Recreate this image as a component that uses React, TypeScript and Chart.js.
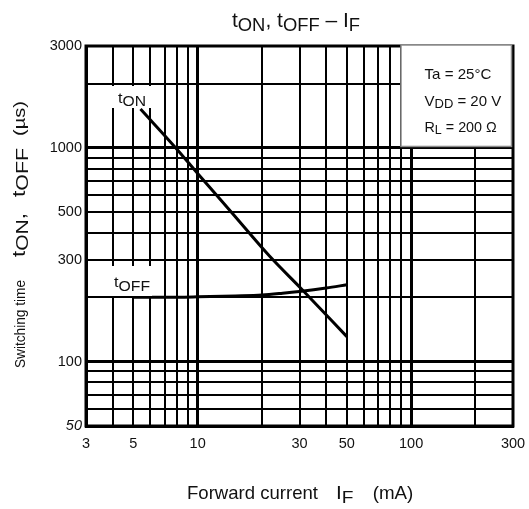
import React, { useEffect, useRef } from 'react';
import { Chart, registerables } from 'chart.js';

Chart.register(...registerables);

const FONT = '"Liberation Sans", Arial, Helvetica, sans-serif';
const INK = '#111';

// tON curve (forward current mA -> switching time µs)
const ifOn = [5.4, 7.9, 10, 14.6, 21.7, 30.5, 50];
const tOn = [1520, 1000, 760, 492, 312, 220, 131];
// tOFF curve
const ifOff = [5, 7, 10, 15, 20, 25, 30, 40, 50];
const tOff = [200, 200, 201, 203, 205, 209, 213, 221, 229];

// grid and tick labels
const xGridValues = [3, 4, 5, 6, 7, 8, 9, 10, 20, 30, 40, 50, 60, 70, 80, 90, 100, 200, 300];
const xTickLabels = [3, 5, 10, 30, 50, 100, 300];
const yGridValues = [50, 60, 70, 80, 90, 100, 200, 300, 400, 500, 600, 700, 800, 900, 1000, 2000, 3000];
const yTickLabels = [50, 100, 300, 500, 1000, 3000];
const majorX = [10, 100];
const majorY = [100, 1000];

type Seg = { t: string; size: number; dy?: number };

function drawGroup(ctx: CanvasRenderingContext2D, segs: Seg[], x: number, y: number, length?: number) {
  let total = 0;
  const widths = segs.map((s) => {
    ctx.font = `${s.size}px ${FONT}`;
    const w = ctx.measureText(s.t).width;
    total += w;
    return w;
  });
  const sx = length ? length / total : 1;
  ctx.save();
  ctx.translate(x, y);
  ctx.scale(sx, 1);
  ctx.textAlign = 'left';
  ctx.textBaseline = 'alphabetic';
  ctx.fillStyle = INK;
  let cx = 0;
  segs.forEach((s, i) => {
    ctx.font = `${s.size}px ${FONT}`;
    ctx.fillText(s.t, cx, s.dy || 0);
    cx += widths[i];
  });
  ctx.restore();
}

const overlay = {
  id: 'overlay',
  afterDatasetsDraw(chart: any) {
    const ctx: CanvasRenderingContext2D = chart.ctx;
    const { left, top, right, bottom } = chart.chartArea;
    const yS = chart.scales.y;
    ctx.save();

    // curve labels with white backing
    ctx.fillStyle = '#fff';
    ctx.fillRect(left + 21, top + 40, 50, 22);
    ctx.fillRect(left + 26, top + 220, 40, 30);
    drawGroup(ctx, [{ t: 't', size: 15 }, { t: 'ON', size: 14.5, dy: 3.3 }], left + 32, top + 57, 28);
    drawGroup(ctx, [{ t: 't', size: 15 }, { t: 'OFF', size: 14.5, dy: 4 }], left + 28, top + 241, 36);

    // plot border
    ctx.strokeStyle = '#000';
    ctx.lineWidth = 3;
    ctx.strokeRect(left, top, right - left, bottom - top);

    // condition box
    const bx = right - 112;
    const by = top - 1;
    const bb = yS.getPixelForValue(1000) - 1.5;
    ctx.fillStyle = '#fff';
    ctx.fillRect(bx, by, right - 1.5 - bx, bb - by);
    ctx.strokeStyle = '#8c8c8c';
    ctx.lineWidth = 1.5;
    ctx.strokeRect(bx, by, right - 1.5 - bx, bb - by);
    const tx = bx + 23.5;
    drawGroup(ctx, [{ t: 'Ta = 25°C', size: 15 }], tx, top + 33, 67);
    drawGroup(ctx, [{ t: 'V', size: 15 }, { t: 'DD', size: 13, dy: 2.7 }, { t: ' = 20 V', size: 15 }], tx, top + 59.7, 76.7);
    drawGroup(ctx, [{ t: 'R', size: 15 }, { t: 'L', size: 13, dy: 2.7 }, { t: ' = 200 Ω', size: 15 }], tx, top + 85.7, 72.3);

    ctx.restore();
  },
  afterDraw(chart: any) {
    const ctx: CanvasRenderingContext2D = chart.ctx;
    ctx.save();
    // title
    drawGroup(
      ctx,
      [
        { t: 't', size: 20 },
        { t: 'ON', size: 17.5, dy: 3.5 },
        { t: ', ', size: 20 },
        { t: 't', size: 20 },
        { t: 'OFF', size: 17.5, dy: 3.5 },
        { t: ' – I', size: 20 },
        { t: 'F', size: 17.5, dy: 3.5 },
      ],
      232,
      27.3,
      128
    );
    // x axis title
    drawGroup(ctx, [{ t: 'Forward current', size: 18.5 }], 187, 499.3, 131);
    drawGroup(ctx, [{ t: 'I', size: 18.5 }, { t: 'F', size: 17, dy: 3.7 }], 336, 499.3, 17.5);
    drawGroup(ctx, [{ t: '(mA)', size: 18.5 }], 372.7, 499.3, 40.6);
    // y axis title (rotated)
    const drawV = (segs: Seg[], startY: number, endY: number) => {
      ctx.save();
      ctx.translate(24.5, startY);
      ctx.rotate(-Math.PI / 2);
      drawGroup(ctx, segs, 0, 0, startY - endY);
      ctx.restore();
    };
    drawV([{ t: 'Switching time', size: 15.5 }], 368, 280);
    drawV([{ t: 't', size: 18 }, { t: 'ON', size: 17, dy: 3 }, { t: ',', size: 18 }], 257, 213);
    drawV([{ t: 't', size: 18 }, { t: 'OFF', size: 17, dy: 3 }], 197, 148);
    drawV([{ t: '(µs)', size: 17 }], 136, 101);
    ctx.restore();
  },
};

export default function App() {
  const ref = useRef<HTMLCanvasElement | null>(null);

  useEffect(() => {
    if (!ref.current) return;
    const chart = new Chart(ref.current, {
      type: 'line',
      data: {
        datasets: [
          {
            label: 'tON',
            data: ifOn.map((x, i) => ({ x, y: tOn[i] })),
            borderColor: '#000',
            borderWidth: 3,
            pointRadius: 0,
            cubicInterpolationMode: 'monotone',
            fill: false,
          },
          {
            label: 'tOFF',
            data: ifOff.map((x, i) => ({ x, y: tOff[i] })),
            borderColor: '#000',
            borderWidth: 3,
            pointRadius: 0,
            cubicInterpolationMode: 'monotone',
            fill: false,
          },
        ],
      },
      options: {
        animation: false,
        responsive: true,
        maintainAspectRatio: false,
        devicePixelRatio: 1,
        layout: { padding: { left: 0, top: 46, right: 16, bottom: 43 } },
        plugins: { legend: { display: false }, tooltip: { enabled: false }, title: { display: false } },
        scales: {
          x: {
            type: 'logarithmic',
            min: 3,
            max: 300,
            afterBuildTicks: (s: any) => {
              s.ticks = xGridValues.map((v) => ({ value: v }));
            },
            afterFit: (s: any) => {
              s.height = 40;
              s.paddingLeft = 0;
              s.paddingRight = 0;
            },
            grid: {
              color: '#000',
              lineWidth: (c: any) => (c.tick && majorX.includes(c.tick.value) ? 3 : 2),
              drawTicks: false,
            },
            border: { display: true, color: '#000', width: 3 },
            ticks: {
              autoSkip: false,
              maxRotation: 0,
              padding: 9,
              color: INK,
              font: { family: FONT, size: 14.5 },
              callback: (v: any) => (xTickLabels.includes(Number(v)) ? String(v) : ''),
            },
          },
          y: {
            type: 'logarithmic',
            min: 50,
            max: 3000,
            afterBuildTicks: (s: any) => {
              s.ticks = yGridValues.map((v) => ({ value: v }));
            },
            afterFit: (s: any) => {
              s.width = 86;
              s.paddingTop = 0;
              s.paddingBottom = 0;
            },
            grid: {
              color: '#000',
              lineWidth: (c: any) => (c.tick && majorY.includes(c.tick.value) ? 3 : 2),
              drawTicks: false,
            },
            border: { display: true, color: '#000', width: 3 },
            ticks: {
              autoSkip: false,
              padding: 4,
              color: INK,
              font: (c: any) => ({
                family: FONT,
                size: 14.5,
                style: c.tick && c.tick.value === 50 ? 'italic' : 'normal',
              }),
              callback: (v: any) => (yTickLabels.includes(Number(v)) ? String(v) : ''),
            },
          },
        },
      } as any,
      plugins: [overlay],
    });
    return () => chart.destroy();
  }, []);

  return (
    <div style={{ position: 'absolute', left: 0, top: 0, width: 529, height: 509, background: '#fff' }}>
      <canvas ref={ref} />
    </div>
  );
}
